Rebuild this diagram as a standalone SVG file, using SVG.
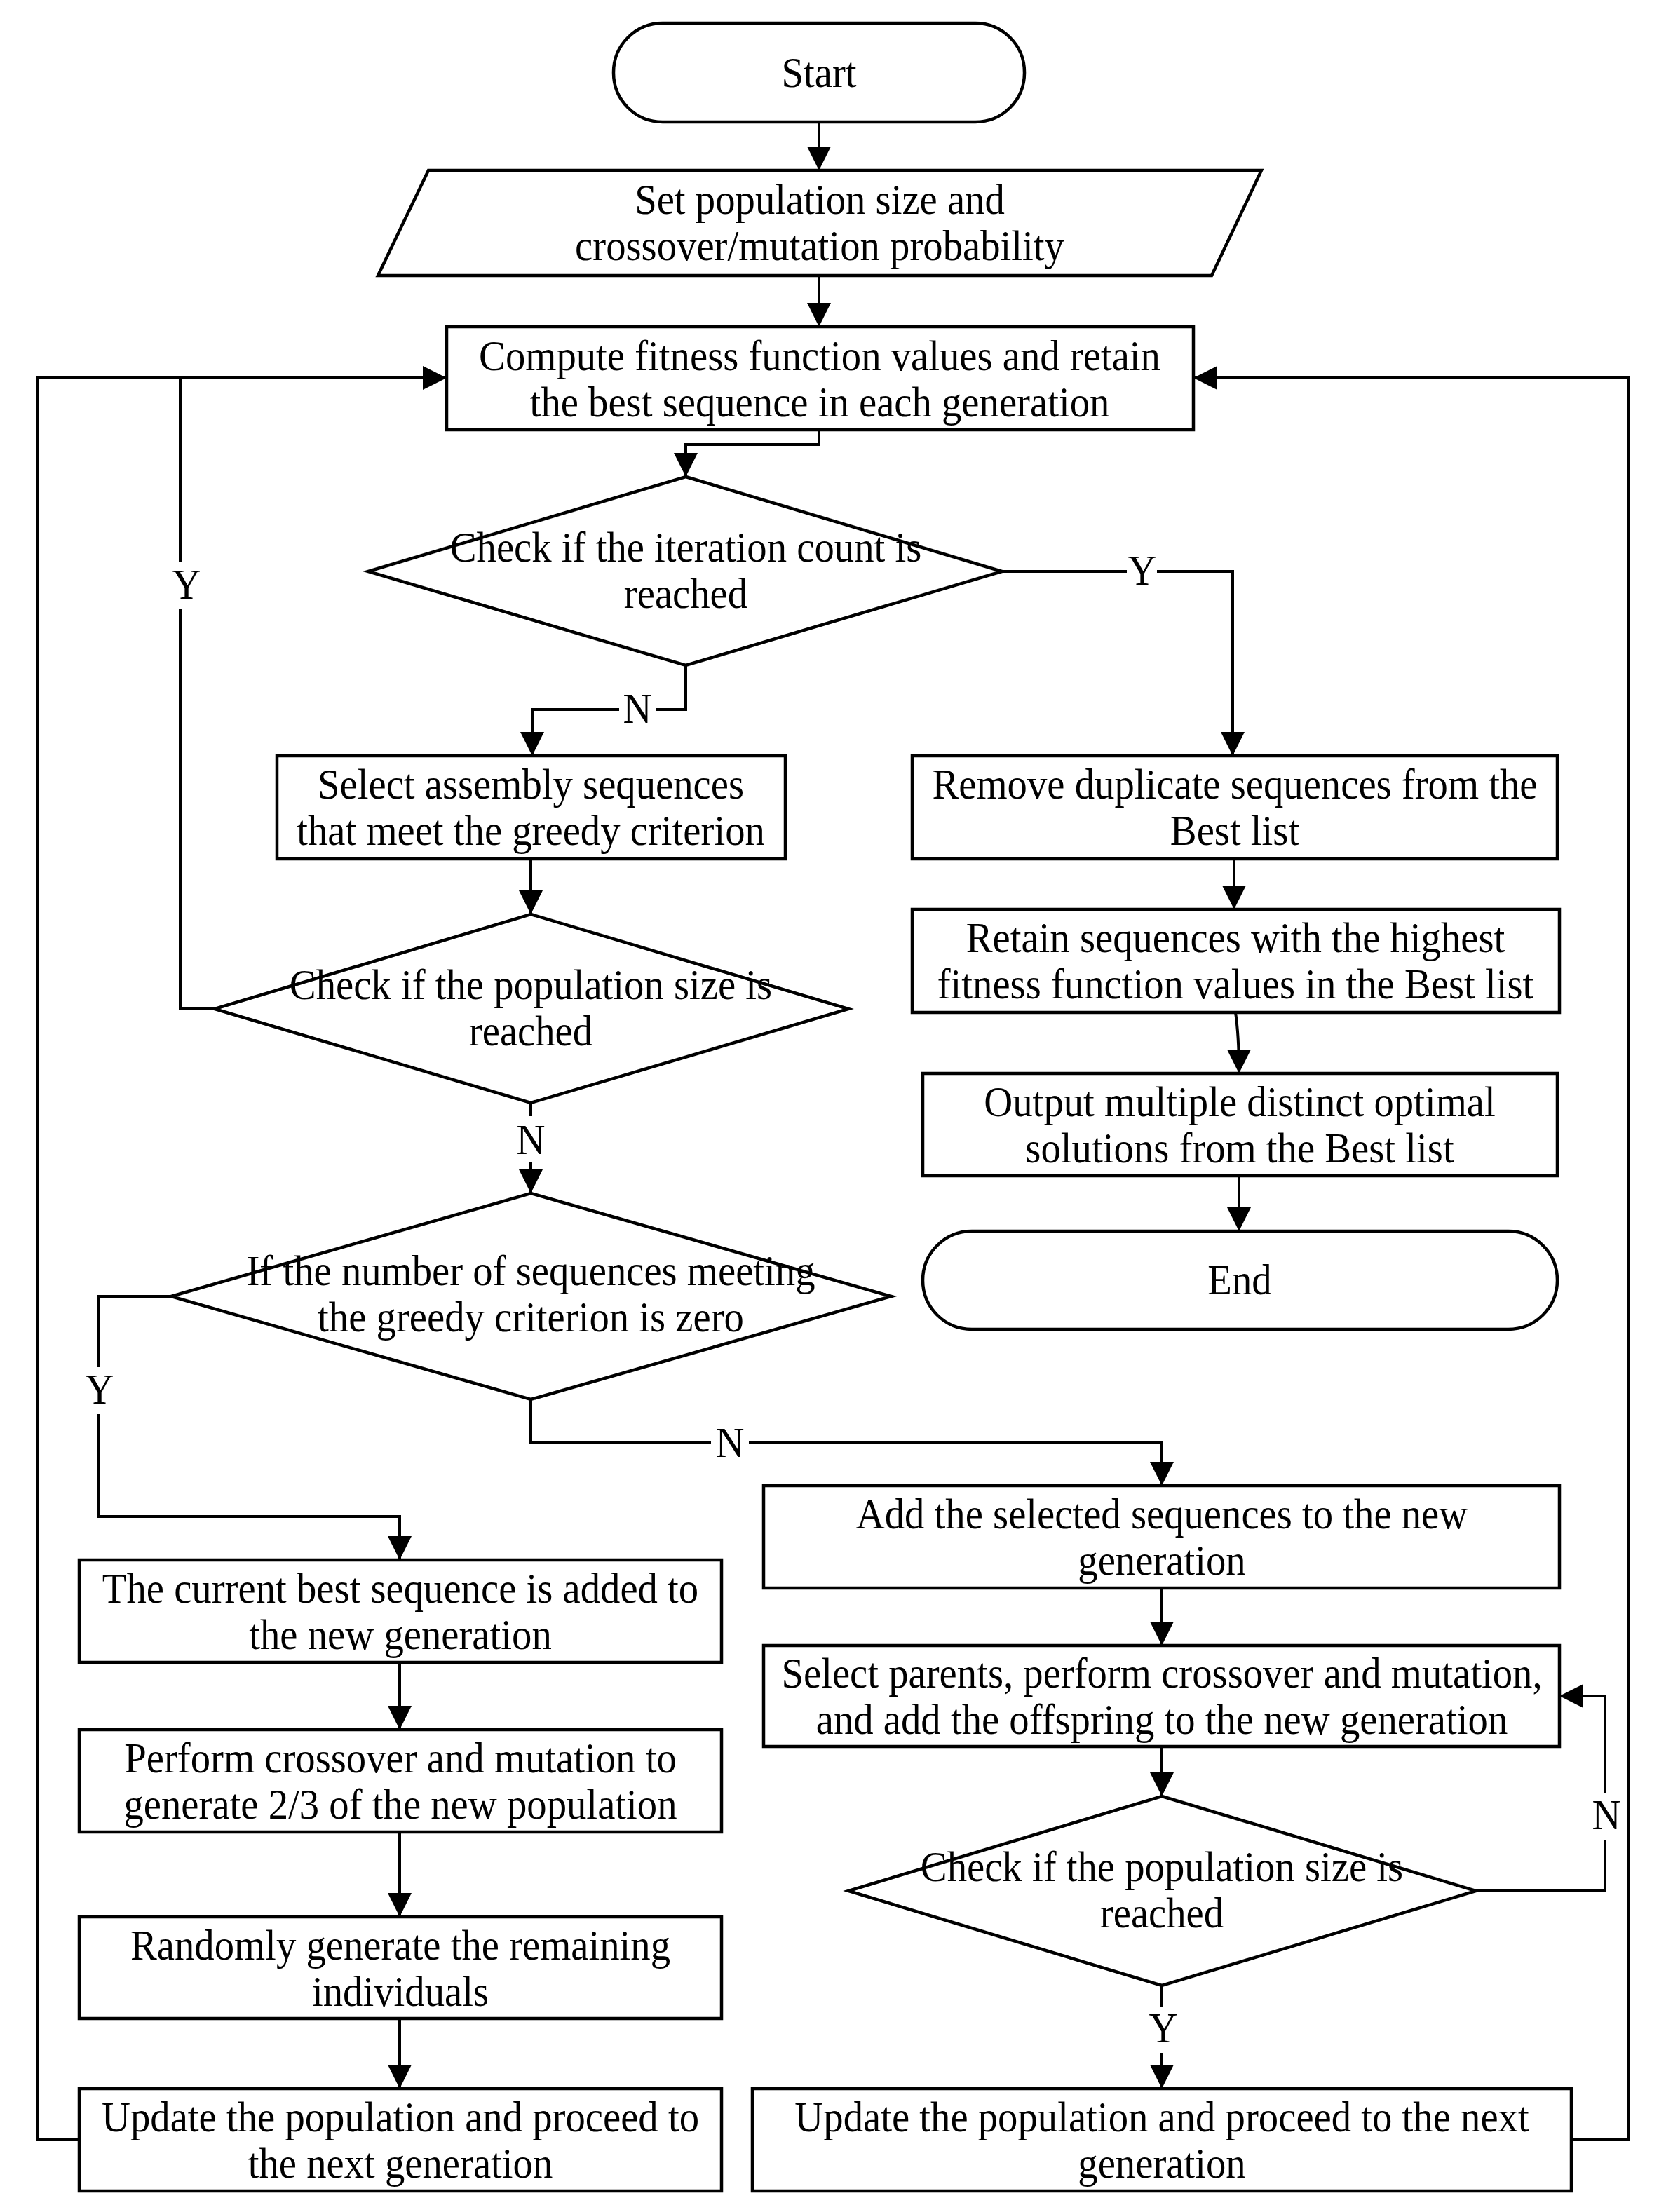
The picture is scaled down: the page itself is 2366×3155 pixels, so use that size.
<svg xmlns="http://www.w3.org/2000/svg" width="2366" height="3155" viewBox="0 0 2366 3155">
<style>
.s{fill:#fff;stroke:#000;stroke-width:4.5;stroke-linejoin:miter}
.c{fill:none;stroke:#000;stroke-width:4}
.t{font-family:"Liberation Serif","Times New Roman",serif;font-size:61px;fill:#000;text-anchor:middle}
</style>
<defs>
<marker id="ah" markerUnits="userSpaceOnUse" markerWidth="34" markerHeight="34" refX="34" refY="17" orient="auto" viewBox="0 0 34 34">
<path d="M0,0 L34,17 L0,34 Z" fill="#000"/>
</marker>
</defs>
<rect width="2366" height="3155" fill="#fff"/>

<g id="connectors">
<path class="c" d="M1168,174 V243" marker-end="url(#ah)"/>
<path class="c" d="M1168,393 V466" marker-end="url(#ah)"/>
<path class="c" d="M1168,613 V634 H978 V680" marker-end="url(#ah)"/>
<path class="c" d="M1429,815 H1607 M1650,815 H1758 V1078" marker-end="url(#ah)"/>
<path class="c" d="M978,949 V1012 H936 M883,1012 H759 V1078" marker-end="url(#ah)"/>
<path class="c" d="M757,1225 V1304" marker-end="url(#ah)"/>
<path class="c" d="M1760,1225 V1297" marker-end="url(#ah)"/>
<path class="c" d="M1762,1444 Q1767,1478 1767,1531" marker-end="url(#ah)"/>
<path class="c" d="M1767,1677 V1756" marker-end="url(#ah)"/>
<path class="c" d="M306,1439 H257 V869 M257,802 V539"/>
<path class="c" d="M113,3052 H53 V539 H637" marker-end="url(#ah)"/>
<path class="c" d="M757,1573 V1592 M757,1657 V1702" marker-end="url(#ah)"/>
<path class="c" d="M244,1849 H140 V1950 M140,2017 V2163 H570 V2225" marker-end="url(#ah)"/>
<path class="c" d="M757,1996 V2058 H1014 M1068,2058 H1657 V2119" marker-end="url(#ah)"/>
<path class="c" d="M570,2371 V2467" marker-end="url(#ah)"/>
<path class="c" d="M570,2613 V2734" marker-end="url(#ah)"/>
<path class="c" d="M570,2879 V2979" marker-end="url(#ah)"/>
<path class="c" d="M1657,2265 V2347" marker-end="url(#ah)"/>
<path class="c" d="M1657,2491 V2562" marker-end="url(#ah)"/>
<path class="c" d="M2105,2697 H2289 V2625 M2289,2557 V2419 H2224" marker-end="url(#ah)"/>
<path class="c" d="M1657,2832 V2862 M1657,2928 V2979" marker-end="url(#ah)"/>
<path class="c" d="M2241,3052 H2323 V539 H1702" marker-end="url(#ah)"/>
<text class="t" transform="translate(1629,834) scale(0.93,1)">Y</text>
<text class="t" transform="translate(909,1031) scale(0.93,1)">N</text>
<text class="t" transform="translate(266,854) scale(0.93,1)">Y</text>
<text class="t" transform="translate(757,1646) scale(0.93,1)">N</text>
<text class="t" transform="translate(142,2002) scale(0.93,1)">Y</text>
<text class="t" transform="translate(1041,2078) scale(0.93,1)">N</text>
<text class="t" transform="translate(2291,2609) scale(0.93,1)">N</text>
<text class="t" transform="translate(1659,2913) scale(0.93,1)">Y</text>
</g>

<g id="start">
<rect class="s" x="875" y="33" width="586" height="141" rx="70" ry="70"/>
<text class="t" transform="translate(1168,124) scale(0.93,1)">Start</text>
</g>
<g id="set-params">
<polygon class="s" points="611,243 1799,243 1728,393 539,393"/>
<text class="t" transform="translate(1169,305) scale(0.93,1)">Set population size and</text>
<text class="t" transform="translate(1169,371) scale(0.93,1)">crossover/mutation probability</text>
</g>
<g id="compute">
<rect class="s" x="637" y="466" width="1065" height="147"/>
<text class="t" transform="translate(1169,528) scale(0.93,1)">Compute fitness function values and retain</text>
<text class="t" transform="translate(1169,594) scale(0.93,1)">the best sequence in each generation</text>
</g>
<g id="check-iter">
<polygon class="s" points="978,680 1429,815 978,949 525,815"/>
<text class="t" transform="translate(978,801) scale(0.93,1)">Check if the iteration count is</text>
<text class="t" transform="translate(978,867) scale(0.93,1)">reached</text>
</g>
<g id="select-greedy">
<rect class="s" x="395" y="1078" width="725" height="147"/>
<text class="t" transform="translate(757,1139) scale(0.93,1)">Select assembly sequences</text>
<text class="t" transform="translate(757,1205) scale(0.93,1)">that meet the greedy criterion</text>
</g>
<g id="remove-dup">
<rect class="s" x="1301" y="1078" width="920" height="147"/>
<text class="t" transform="translate(1761,1139) scale(0.93,1)">Remove duplicate sequences from the</text>
<text class="t" transform="translate(1761,1205) scale(0.93,1)">Best list</text>
</g>
<g id="retain-best">
<rect class="s" x="1301" y="1297" width="923" height="147"/>
<text class="t" transform="translate(1762,1358) scale(0.93,1)">Retain sequences with the highest</text>
<text class="t" transform="translate(1762,1424) scale(0.93,1)">fitness function values in the Best list</text>
</g>
<g id="output">
<rect class="s" x="1316" y="1531" width="905" height="146"/>
<text class="t" transform="translate(1768,1592) scale(0.93,1)">Output multiple distinct optimal</text>
<text class="t" transform="translate(1768,1658) scale(0.93,1)">solutions from the Best list</text>
</g>
<g id="end">
<rect class="s" x="1316" y="1756" width="905" height="140" rx="70" ry="70"/>
<text class="t" transform="translate(1768,1846) scale(0.93,1)">End</text>
</g>
<g id="check-pop1">
<polygon class="s" points="757,1304 1210,1439 757,1573 306,1439"/>
<text class="t" transform="translate(757,1425) scale(0.93,1)">Check if the population size is</text>
<text class="t" transform="translate(757,1491) scale(0.93,1)">reached</text>
</g>
<g id="check-zero">
<polygon class="s" points="757,1702 1271,1849 757,1996 244,1849"/>
<text class="t" transform="translate(757,1833) scale(0.93,1)">If the number of sequences meeting</text>
<text class="t" transform="translate(757,1899) scale(0.93,1)">the greedy criterion is zero</text>
</g>
<g id="current-best">
<rect class="s" x="113" y="2225" width="916" height="146"/>
<text class="t" transform="translate(571,2286) scale(0.93,1)">The current best sequence is added to</text>
<text class="t" transform="translate(571,2352) scale(0.93,1)">the new generation</text>
</g>
<g id="perform-cm">
<rect class="s" x="113" y="2467" width="916" height="146"/>
<text class="t" transform="translate(571,2528) scale(0.93,1)">Perform crossover and mutation to</text>
<text class="t" transform="translate(571,2594) scale(0.93,1)">generate 2/3 of the new population</text>
</g>
<g id="random-gen">
<rect class="s" x="113" y="2734" width="916" height="145"/>
<text class="t" transform="translate(571,2795) scale(0.93,1)">Randomly generate the remaining</text>
<text class="t" transform="translate(571,2861) scale(0.93,1)">individuals</text>
</g>
<g id="update-left">
<rect class="s" x="113" y="2979" width="916" height="146"/>
<text class="t" transform="translate(571,3040) scale(0.93,1)">Update the population and proceed to</text>
<text class="t" transform="translate(571,3106) scale(0.93,1)">the next generation</text>
</g>
<g id="add-selected">
<rect class="s" x="1089" y="2119" width="1135" height="146"/>
<text class="t" transform="translate(1657,2180) scale(0.93,1)">Add the selected sequences to the new</text>
<text class="t" transform="translate(1657,2246) scale(0.93,1)">generation</text>
</g>
<g id="select-parents">
<rect class="s" x="1089" y="2347" width="1135" height="144"/>
<text class="t" transform="translate(1657,2407) scale(0.93,1)">Select parents, perform crossover and mutation,</text>
<text class="t" transform="translate(1657,2473) scale(0.93,1)">and add the offspring to the new generation</text>
</g>
<g id="check-pop2">
<polygon class="s" points="1657,2562 2105,2697 1657,2832 1210,2697"/>
<text class="t" transform="translate(1657,2683) scale(0.93,1)">Check if the population size is</text>
<text class="t" transform="translate(1657,2749) scale(0.93,1)">reached</text>
</g>
<g id="update-right">
<rect class="s" x="1073" y="2979" width="1168" height="146"/>
<text class="t" transform="translate(1657,3040) scale(0.93,1)">Update the population and proceed to the next</text>
<text class="t" transform="translate(1657,3106) scale(0.93,1)">generation</text>
</g>
</svg>
